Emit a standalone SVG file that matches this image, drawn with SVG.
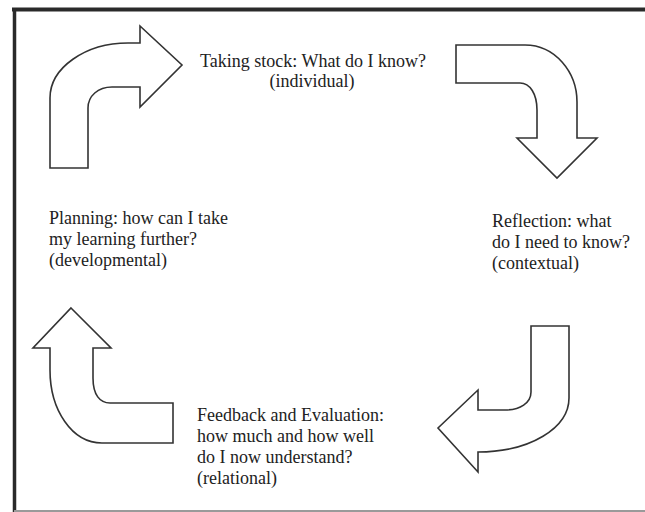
<svg xmlns="http://www.w3.org/2000/svg" width="645" height="512" viewBox="0 0 645 512">
<style>
.arrow{fill:#ffffff;stroke:#333333;stroke-width:1.6;stroke-linejoin:miter}
.lbl{font-family:"Liberation Serif","Times New Roman",serif;font-size:18px;fill:#222222}
</style>
<rect x="0" y="0" width="645" height="512" fill="#ffffff"/>
<g id="frame">
<line x1="12" y1="9.5" x2="645" y2="9.5" stroke="#2a2a2a" stroke-width="4"/>
<line x1="14.5" y1="8" x2="14.5" y2="512" stroke="#2a2a2a" stroke-width="3.5"/>
<line x1="14" y1="511" x2="645" y2="511" stroke="#9a9a9a" stroke-width="2"/>
</g>
<g id="connectors">
<path class="arrow" d="M50,168 L50,98 C50,68 85,43 128,43 L140,43 L140,26 L182,65 L140,107 L140,87 L112,87 C98,87 88,96 88,108 L88,168 Z"/>
<path class="arrow" d="M456,45 L525,45 C555,45 577,72 577,102 L577,138 L597,138 L557,178 L517,138 L537,138 L537,110 C537,94 530,83 520,83 L456,83 Z"/>
<path class="arrow" d="M531,326 L569,326 L569,398 C569,428 530,452 478,452 L478,472 L438,428 L478,390 L478,410 L505,410 C520,410 531,403 531,392 Z"/>
<path class="arrow" d="M71,308 L111,348 L93,348 L93,378 C93,395 100,403 110,403 L173,403 L173,443 L102,443 C72,443 50,410 50,370 L50,348 L33,348 Z"/>
</g>
<g id="taking-stock">
<text class="lbl" x="313" y="67" text-anchor="middle">Taking stock: What do I know?</text>
<text class="lbl" x="312" y="87" text-anchor="middle">(individual)</text>
</g>
<g id="reflection">
<text class="lbl" x="492" y="227">Reflection: what</text>
<text class="lbl" x="492" y="248">do I need to know?</text>
<text class="lbl" x="492" y="269">(contextual)</text>
</g>
<g id="planning">
<text class="lbl" x="49" y="224">Planning: how can I take</text>
<text class="lbl" x="49" y="245">my learning further?</text>
<text class="lbl" x="49" y="266">(developmental)</text>
</g>
<g id="feedback">
<text class="lbl" x="197" y="421">Feedback and Evaluation:</text>
<text class="lbl" x="197" y="442">how much and how well</text>
<text class="lbl" x="197" y="463">do I now understand?</text>
<text class="lbl" x="197" y="484">(relational)</text>
</g>
</svg>
